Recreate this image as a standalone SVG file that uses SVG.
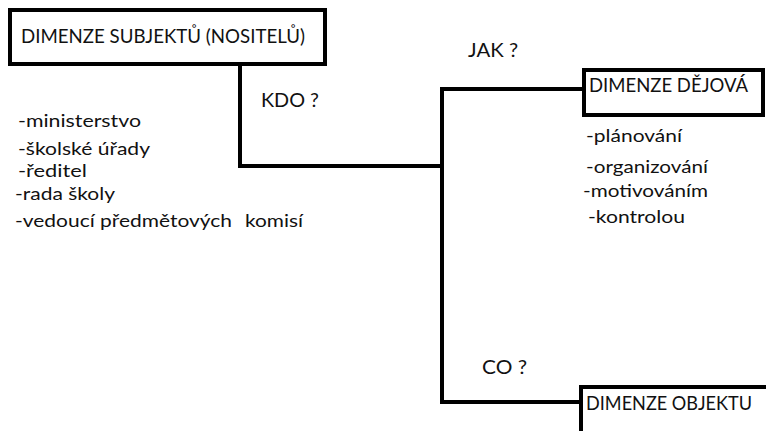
<svg xmlns="http://www.w3.org/2000/svg" width="766" height="431" viewBox="0 0 766 431">
<style>
.box{fill:#fff;stroke:#000;stroke-width:4}
.ln{fill:none;stroke:#000;stroke-width:4;stroke-linejoin:miter;stroke-linecap:square}
text{font-family:Lato,"Open Sans","Liberation Sans",sans-serif;fill:#111}
.h{font-size:19px}
.l{font-size:18px}
</style>
<rect width="766" height="431" fill="#fff"/>
<g id="connectors">
<path class="ln" d="M240 66 V166 H442"/>
<path class="ln" d="M442 89 V402"/>
<path class="ln" d="M442 89 H582"/>
<path class="ln" d="M442 402 H579"/>
</g>
<g id="node-subjekty">
<rect class="box" x="10" y="10" width="315" height="54"/>
<text class="h" x="21" y="43" textLength="284" lengthAdjust="spacingAndGlyphs">DIMENZE SUBJEKTŮ (NOSITELŮ)</text>
</g>
<g id="node-dejova">
<rect class="box" x="584" y="70" width="179" height="45"/>
<text class="h" x="589" y="92" textLength="159" lengthAdjust="spacingAndGlyphs">DIMENZE DĚJOVÁ</text>
</g>
<g id="node-objektu">
<rect class="box" x="581" y="387" width="200" height="60"/>
<text class="h" x="586" y="410" textLength="166" lengthAdjust="spacingAndGlyphs">DIMENZE OBJEKTU</text>
</g>
<g id="labels">
<text class="h" x="261" y="107" textLength="58" lengthAdjust="spacingAndGlyphs">KDO ?</text>
<text class="h" x="468" y="57" textLength="50" lengthAdjust="spacingAndGlyphs">JAK ?</text>
<text class="h" x="482" y="374" textLength="45" lengthAdjust="spacingAndGlyphs">CO ?</text>
</g>
<g id="list-subjekty">
<text class="l" x="18" y="127" textLength="123" lengthAdjust="spacingAndGlyphs">-ministerstvo</text>
<text class="l" x="18" y="155" textLength="132" lengthAdjust="spacingAndGlyphs">-školské úřady</text>
<text class="l" x="18" y="177" textLength="69" lengthAdjust="spacingAndGlyphs">-ředitel</text>
<text class="l" x="15" y="200" textLength="100" lengthAdjust="spacingAndGlyphs">-rada školy</text>
<text class="l" x="15" y="227" textLength="217" lengthAdjust="spacingAndGlyphs">-vedoucí předmětových</text>
<text class="l" x="245" y="227" textLength="58" lengthAdjust="spacingAndGlyphs">komisí</text>
</g>
<g id="list-dejova">
<text class="l" x="586" y="142" textLength="96" lengthAdjust="spacingAndGlyphs">-plánování</text>
<text class="l" x="586" y="173" textLength="122" lengthAdjust="spacingAndGlyphs">-organizování</text>
<text class="l" x="583" y="197" textLength="125" lengthAdjust="spacingAndGlyphs">-motivováním</text>
<text class="l" x="588" y="223" textLength="97" lengthAdjust="spacingAndGlyphs">-kontrolou</text>
</g>
</svg>
